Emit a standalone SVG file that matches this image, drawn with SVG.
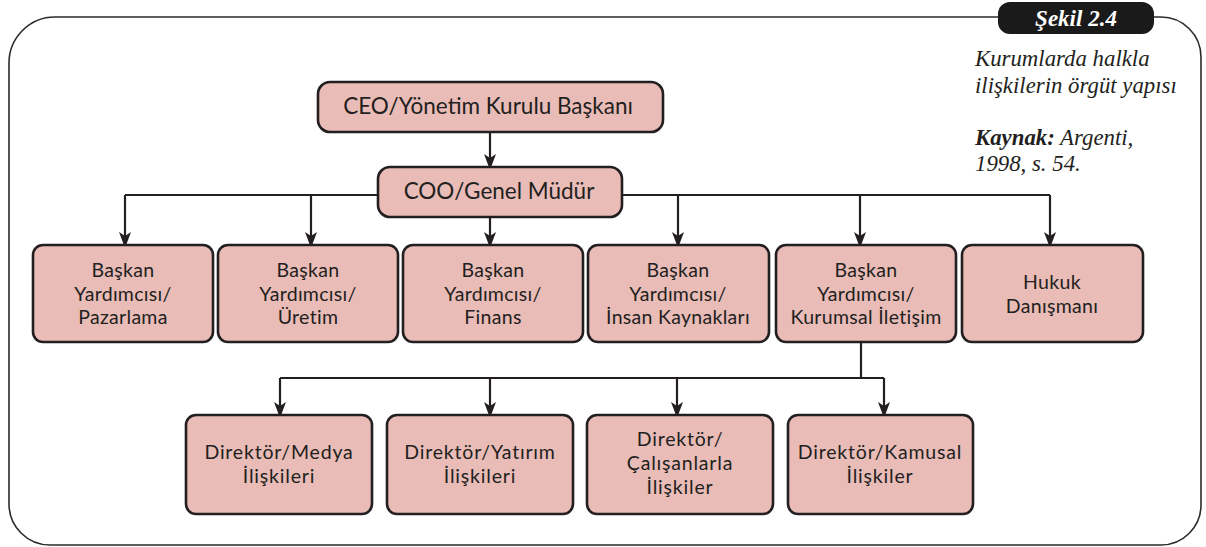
<svg xmlns="http://www.w3.org/2000/svg" width="1206" height="547" viewBox="0 0 1206 547">
  <style>
    .frame { fill: none; stroke: #2b2b2b; stroke-width: 1.6; }
    .box { fill: #e9bcb7; stroke: #231f20; stroke-width: 2.6; }
    .lbl { font-family: Lato, "Open Sans", sans-serif; fill: #231f20; text-anchor: middle; }
    .top { font-size: 22.5px; }
    .mid { font-size: 19.5px; letter-spacing: 0.3px; }
    .low { font-size: 19.5px; letter-spacing: 0.8px; }
    .wire { fill: none; stroke: #231f20; stroke-width: 2.2; marker-end: url(#arrow); }
    .plain { fill: none; stroke: #231f20; stroke-width: 2.2; }
    .cap { font-family: "Liberation Serif", serif; font-style: italic; font-size: 22.8px; fill: #231f20; }
  </style>
  <defs>
    <marker id="arrow" markerUnits="userSpaceOnUse" markerWidth="20" markerHeight="14" viewBox="-17 -7 20 14" refX="-3" refY="0" orient="auto">
      <path d="M0,0 L-16,-6 L-12,0 L-16,6 Z" fill="#231f20"/>
    </marker>
  </defs>

  <!-- outer frame with title tab -->
  <path class="frame" d="M1000,17 H55 A46,46 0 0 0 9,63 V504 A41,41 0 0 0 50,545 H1161 A40,40 0 0 0 1201,505 V57 A40,40 0 0 0 1161,17 H1150"/>
  <g id="tab">
    <rect x="998" y="2" width="156" height="32" rx="12" fill="#1a1a1a"/>
    <text x="1076" y="26" font-family="Liberation Serif, serif" font-style="italic" font-weight="bold" font-size="23" fill="#ffffff" text-anchor="middle">Şekil 2.4</text>
  </g>
  <g id="caption">
    <text class="cap" x="975" y="66">Kurumlarda halkla</text>
    <text class="cap" x="975" y="93">ilişkilerin örgüt yapısı</text>
    <text class="cap" x="975" y="145"><tspan font-weight="bold">Kaynak:</tspan> Argenti,</text>
    <text class="cap" x="975" y="171">1998, s. 54.</text>
  </g>

  <!-- connectors -->
  <g id="connectors">
    <path class="wire" d="M490,132 V167"/>
    <path class="plain" d="M125,195 H1050"/>
    <path class="wire" d="M125,195 V245"/>
    <path class="wire" d="M311,195 V245"/>
    <path class="wire" d="M490,217 V245"/>
    <path class="wire" d="M678,195 V245"/>
    <path class="wire" d="M860,195 V245"/>
    <path class="wire" d="M1050,195 V245"/>
    <path class="plain" d="M861,342 V378"/>
    <path class="plain" d="M280,378 H884"/>
    <path class="wire" d="M280,378 V415"/>
    <path class="wire" d="M490,378 V415"/>
    <path class="wire" d="M677,378 V415"/>
    <path class="wire" d="M884,378 V415"/>
  </g>

  <!-- top levels -->
  <g id="ceo">
    <rect class="box" x="318" y="82" width="345" height="50" rx="12"/>
    <text class="lbl top" x="488" y="114">CEO/Yönetim Kurulu Başkanı</text>
  </g>
  <g id="coo">
    <rect class="box" x="378" y="167" width="244" height="50" rx="12"/>
    <text class="lbl top" x="499" y="199">COO/Genel Müdür</text>
  </g>

  <!-- vice presidents -->
  <g id="vp-pazarlama">
    <rect class="box" x="33" y="245" width="180" height="97" rx="10"/>
    <text class="lbl mid" x="123" y="277">Başkan</text>
    <text class="lbl mid" x="123" y="300.5">Yardımcısı/</text>
    <text class="lbl mid" x="123" y="324">Pazarlama</text>
  </g>
  <g id="vp-uretim">
    <rect class="box" x="218" y="245" width="180" height="97" rx="10"/>
    <text class="lbl mid" x="308" y="277">Başkan</text>
    <text class="lbl mid" x="308" y="300.5">Yardımcısı/</text>
    <text class="lbl mid" x="308" y="324">Üretim</text>
  </g>
  <g id="vp-finans">
    <rect class="box" x="403" y="245" width="180" height="97" rx="10"/>
    <text class="lbl mid" x="493" y="277">Başkan</text>
    <text class="lbl mid" x="493" y="300.5">Yardımcısı/</text>
    <text class="lbl mid" x="493" y="324">Finans</text>
  </g>
  <g id="vp-ik">
    <rect class="box" x="588" y="245" width="181" height="97" rx="10"/>
    <text class="lbl mid" x="678" y="277">Başkan</text>
    <text class="lbl mid" x="678" y="300.5">Yardımcısı/</text>
    <text class="lbl mid" x="678" y="324">İnsan Kaynakları</text>
  </g>
  <g id="vp-iletisim">
    <rect class="box" x="776" y="245" width="180" height="97" rx="10"/>
    <text class="lbl mid" x="866" y="277">Başkan</text>
    <text class="lbl mid" x="866" y="300.5">Yardımcısı/</text>
    <text class="lbl mid" x="866" y="324">Kurumsal İletişim</text>
  </g>
  <g id="hukuk">
    <rect class="box" x="962" y="245" width="181" height="97" rx="10"/>
    <text class="lbl mid" x="1052" y="289">Hukuk</text>
    <text class="lbl mid" x="1052" y="312.5">Danışmanı</text>
  </g>

  <!-- directors -->
  <g id="dir-medya">
    <rect class="box" x="186" y="415" width="186" height="99" rx="10"/>
    <text class="lbl low" x="279" y="459">Direktör/Medya</text>
    <text class="lbl low" x="279" y="483">İlişkileri</text>
  </g>
  <g id="dir-yatirim">
    <rect class="box" x="387" y="415" width="186" height="99" rx="10"/>
    <text class="lbl low" x="480" y="459">Direktör/Yatırım</text>
    <text class="lbl low" x="480" y="483">İlişkileri</text>
  </g>
  <g id="dir-calisan">
    <rect class="box" x="587" y="415" width="186" height="99" rx="10"/>
    <text class="lbl low" x="680" y="446">Direktör/</text>
    <text class="lbl low" x="680" y="470">Çalışanlarla</text>
    <text class="lbl low" x="680" y="494">İlişkiler</text>
  </g>
  <g id="dir-kamusal">
    <rect class="box" x="788" y="415" width="185" height="99" rx="10"/>
    <text class="lbl low" x="880" y="459">Direktör/Kamusal</text>
    <text class="lbl low" x="880" y="483">İlişkiler</text>
  </g>
</svg>
